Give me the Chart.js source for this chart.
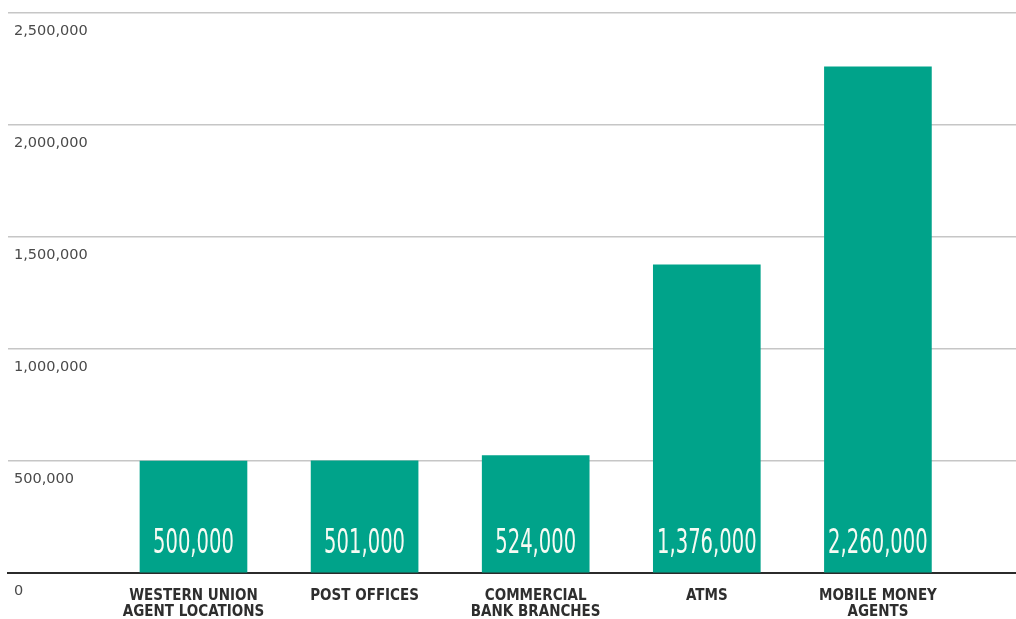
<!DOCTYPE html>
<html>
<head>
<meta charset="utf-8">
<script src="https://cdn.jsdelivr.net/npm/chart.js@4/dist/chart.umd.min.js"></script>
<style>
html,body{margin:0;padding:0;background:#fff;}
#wrap{width:1016px;height:619px;}
</style>
</head>
<body>
<div id="wrap"><canvas id="c" width="1016" height="619"></canvas></div>
<script>
const categories = [["WESTERN UNION","AGENT LOCATIONS"],["POST OFFICES"],["COMMERCIAL","BANK BRANCHES"],["ATMS"],["MOBILE MONEY","AGENTS"]];
const values = [500000, 501000, 524000, 1376000, 2260000];
const valueLabels = ["500,000","501,000","524,000","1,376,000","2,260,000"];
const yTickValues = [0, 500000, 1000000, 1500000, 2000000, 2500000];
const yTickLabels = ["0","500,000","1,000,000","1,500,000","2,000,000","2,500,000"];

const barColor = '#00A38A';

const valueLabelPlugin = {
  id: 'valueLabels',
  afterDatasetsDraw(chart) {
    const meta = chart.getDatasetMeta(0);
    const ctx = chart.ctx;
    const y0 = chart.scales.y.getPixelForValue(0);
    ctx.save();
    ctx.fillStyle = '#f7fbf4';
    ctx.font = '34px "DejaVu Sans Condensed", sans-serif';
    ctx.textAlign = 'center';
    ctx.textBaseline = 'alphabetic';
    meta.data.forEach((bar, i) => {
      ctx.save();
      ctx.translate(bar.x, y0 - 20);
      ctx.scale(0.64, 1);
      ctx.fillText(valueLabels[i], 0, 0);
      ctx.restore();
    });
    ctx.restore();
  }
};

new Chart(document.getElementById('c'), {
  type: 'bar',
  data: {
    datasets: [{
      data: values.map((v, i) => ({x: i, y: v})),
      backgroundColor: barColor,
      borderWidth: 0,
      barThickness: 107
    }]
  },
  options: {
    responsive: false,
    animation: false,
    layout: {padding: {left: 8, right: 0, top: 13, bottom: 0}},
    plugins: {legend: {display: false}, tooltip: {enabled: false}},
    scales: {
      x: {
        type: 'linear',
        offset: false,
        min: -1.084,
        max: 4.807,
        afterBuildTicks(scale) { scale.ticks = categories.map((c, i) => ({value: i})); },
        afterFit(scale) { scale.height = 46; scale.paddingLeft = 0; scale.paddingRight = 0; },
        grid: {display: false, drawTicks: false},
        border: {display: true, color: '#2b2b2b', width: 2},
        ticks: {
          autoSkip: false,
          maxRotation: 0,
          padding: 15,
          color: '#2e2e2e',
          font: {family: '"DejaVu Sans Condensed", sans-serif', size: 15, weight: 'bold', lineHeight: 1.07},
          callback: (v, i) => categories[i]
        }
      },
      y: {
        min: 0,
        max: 2500000,
        afterBuildTicks(scale) { scale.ticks = yTickValues.map(v => ({value: v})); },
        afterFit(scale) { scale.width = 0; scale.paddingTop = 0; scale.paddingBottom = 0; },
        grid: {color: '#c6c6c6', lineWidth: 1.5, drawTicks: false},
        border: {display: false},
        ticks: {
          mirror: true,
          padding: 6,
          labelOffset: 18,
          color: '#4a4a4a',
          font: {family: '"DejaVu Sans", sans-serif', size: 14.5},
          callback: (v, i) => yTickLabels[i]
        }
      }
    }
  },
  plugins: [valueLabelPlugin]
});
</script>
</body>
</html>
